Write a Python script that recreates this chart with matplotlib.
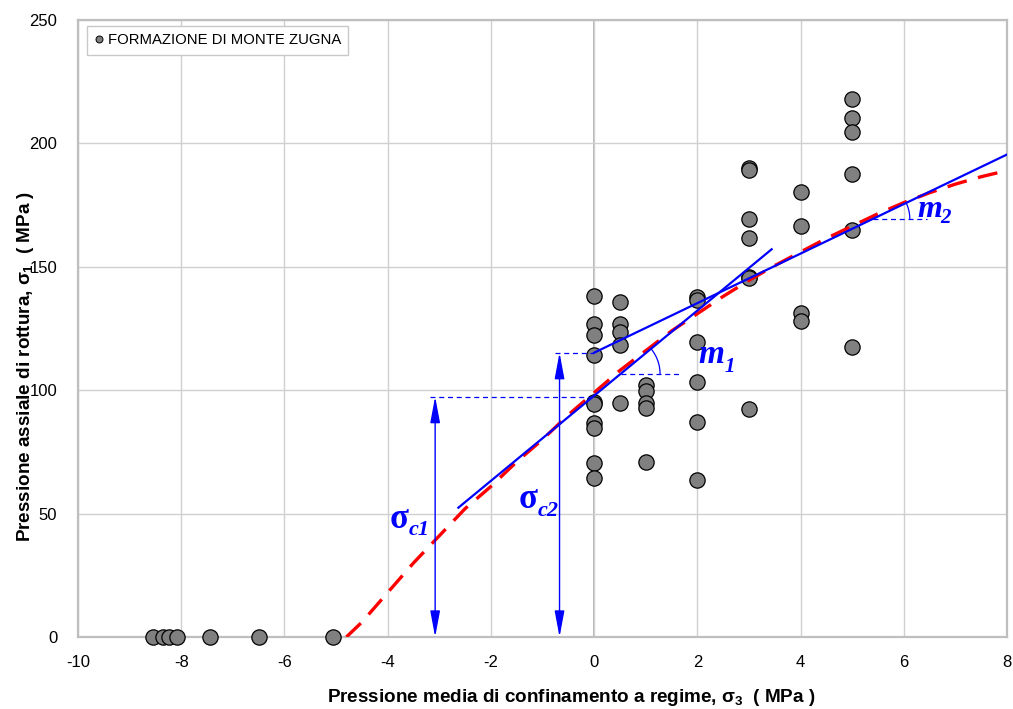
import numpy as np
import matplotlib
matplotlib.use("Agg")
import matplotlib.pyplot as plt
from matplotlib.lines import Line2D

plt.rcParams['font.family'] = ['Liberation Sans', 'DejaVu Sans']
plt.rcParams['axes.unicode_minus'] = False
plt.rcParams['mathtext.fontset'] = 'custom'
plt.rcParams['mathtext.rm'] = 'Liberation Sans:bold'
plt.rcParams['mathtext.it'] = 'Liberation Sans:bold'
plt.rcParams['mathtext.bf'] = 'Liberation Sans:bold'

# ---------------- data ----------------
sigma3 = ([-8.55, -8.35, -8.23, -8.09, -7.45, -6.5, -5.05] +
          [0] * 10 + [0.5] * 5 + [1] * 5 + [2] * 6 + [3] * 7 + [4] * 4 + [5] * 6)
sigma1 = ([0, 0, 0, 0, 0, 0, 0] +
          [138.3, 126.8, 122.4, 114.3, 95.3, 94.4, 86.6, 84.6, 70.6, 64.3] +
          [135.9, 126.8, 123.7, 118.3, 94.7] +
          [102.1, 99.8, 94.9, 92.7, 70.8] +
          [137.9, 136.5, 119.7, 103.4, 87.2, 63.6] +
          [189.9, 189.4, 169.2, 161.5, 146.0, 145.3, 92.2] +
          [180.4, 166.5, 131.4, 128.2] +
          [217.9, 210.2, 204.8, 187.5, 164.9, 117.6])

# red dashed envelope
env_x = [-4.8, -4.5, -4.0, -3.5, -3.0, -2.5, -2.0, -1.5, -1.0, -0.5, 0, 0.5, 1, 1.5, 2, 2.5, 3, 3.5, 4, 4.5, 5, 5.5, 6, 6.5, 7, 7.5, 8]
env_y = [0, 6, 18, 30, 41, 52, 61, 71, 80, 90, 99, 108, 116, 124, 131, 138, 144.5, 150.5, 156, 161.5, 166.5, 171.5, 176, 180, 183.5, 186.5, 189]

# blue straight fits
line1_x = [-2.63, 3.44]
line1_y = [52.4, 157.1]
line2_x = [0.0, 8.0]
line2_y = [115.2, 195.5]

sigma_c1 = 97.4
sigma_c2 = 115.2
arrow1_x = -3.08
arrow2_x = -0.67

xticks = list(range(-10, 9, 2))
yticks = list(range(0, 251, 50))
legend_label = "FORMAZIONE DI MONTE ZUGNA"
xlabel = r"Pressione media di confinamento a regime, $\sigma_3$  ( MPa )"
ylabel = r"Pressione assiale di rottura, $\sigma_1$  ( MPa )"

# ---------------- figure ----------------
W, H = 1013, 709
fig = plt.figure(figsize=(W / 100, H / 100), dpi=100)
ax = fig.add_axes([78 / W, 1 - 637 / H, (1007 - 78) / W, (637 - 20) / H])
ax.set_xlim(-10, 8)
ax.set_ylim(0, 250)
ax.set_xticks(xticks)
ax.set_yticks(yticks)
ax.grid(True, color='#d0d0d0', lw=1.0, zorder=0)
ax.set_axisbelow(True)
for s in ax.spines.values():
    s.set_color('#bfbfbf')
    s.set_linewidth(1.6)
ax.axvline(0, color='#a8a8a8', lw=1.2, zorder=0.5)
ax.tick_params(axis='both', length=0, labelsize=12)
ax.tick_params(axis='y', pad=15)
ax.tick_params(axis='x', pad=13)

ax.set_xlabel(xlabel, fontsize=13.6, fontweight='bold')
ax.xaxis.set_label_coords((571 - 78) / 929, (637 - 687) / 617)
ax.set_ylabel(ylabel, fontsize=13.6, fontweight='bold')
ax.yaxis.set_label_coords((36 - 78) / 929, 0.438)

# data points
ax.plot(sigma3, sigma1, 'o', ms=11, mfc='#808080', mec='black', mew=0.9, zorder=3, clip_on=False)

# red envelope
ax.plot(env_x, env_y, color='#ff0000', lw=2.4, dashes=(6, 3.5), zorder=5, dash_capstyle='butt')

# blue fits
blue = '#0000ff'
ax.plot(line1_x, line1_y, color=blue, lw=1.6, zorder=6)
ax.plot(line2_x, line2_y, color=blue, lw=1.6, zorder=6)

# sigma_c dashed lines
ax.plot([-3.18, 0], [sigma_c1, sigma_c1], color=blue, lw=0.9, dashes=(4, 3), zorder=4)
ax.plot([-0.76, 0], [sigma_c2, sigma_c2], color=blue, lw=0.9, dashes=(4, 3), zorder=4)

# double arrows
for xa, ya in [(arrow1_x, sigma_c1), (arrow2_x, sigma_c2)]:
    ax.annotate('', xy=(xa, ya), xytext=(xa, 0),
                arrowprops=dict(arrowstyle='<|-|>,head_length=1.6,head_width=0.3',
                                mutation_scale=10, color=blue, lw=1.0,
                                shrinkA=0, shrinkB=0), zorder=6)

# slope angle marks
fig.canvas.draw()
def slope_mark(x0, y0, xend, slope, r_px):
    ax.plot([x0, xend], [y0, y0], color=blue, lw=0.9, dashes=(4, 3), zorder=4)
    p0 = ax.transData.transform((x0, y0))
    p1 = ax.transData.transform((x0 + 1, y0 + slope))
    ang = np.arctan2(p1[1] - p0[1], p1[0] - p0[0])
    t = np.linspace(0, ang, 40)
    pts = np.column_stack([p0[0] + r_px * np.cos(t), p0[1] + r_px * np.sin(t)])
    d = ax.transData.inverted().transform(pts)
    ax.plot(d[:, 0], d[:, 1], color=blue, lw=0.9, zorder=4)

s1 = (line1_y[1] - line1_y[0]) / (line1_x[1] - line1_x[0])
s2 = (line2_y[1] - line2_y[0]) / (line2_x[1] - line2_x[0])
y_m1 = 106.6
x_m1 = line1_x[0] + (y_m1 - line1_y[0]) / s1
slope_mark(x_m1, y_m1, 1.67, s1, 39.5)
y_m2 = 169.4
x_m2 = line2_x[0] + (y_m2 - line2_y[0]) / s2
slope_mark(x_m2, y_m2, 6.45, s2, 37)

serif = ['Liberation Serif', 'DejaVu Serif']
def label(xm, ym, main, xs, ys, sub, fmain, fsub, style):
    ax.text(xm, ym, main, color=blue, fontsize=fmain, fontweight='bold', fontstyle=style,
            family=serif, ha='left', va='baseline', zorder=7)
    ax.text(xs, ys, sub, color=blue, fontsize=fsub, fontweight='bold', fontstyle='italic',
            family=serif, ha='left', va='baseline', zorder=7)

label(-3.97, 44.2, 'σ', -3.60, 41.3, 'c1', 25, 16, 'normal')
label(-1.47, 52.3, 'σ', -1.10, 49.0, 'c2', 25, 16, 'normal')
label(2.02, 110.9, 'm', 2.52, 107.5, '1', 24, 15, 'italic')
label(6.26, 170.3, 'm', 6.71, 167.6, '2', 23, 15, 'italic')

# legend
h = Line2D([], [], ls='none', marker='o', ms=5, mfc='#808080', mec='black', mew=0.7)
leg = ax.legend([h], [legend_label], loc='upper left',
                bbox_to_anchor=(87 / W, 1 - 25.7 / H), bbox_transform=fig.transFigure,
                borderaxespad=0, fontsize=10.7, handlelength=0.6, handletextpad=0.3,
                borderpad=0.5, fancybox=False, framealpha=1, edgecolor='#c8c8c8')
leg.get_frame().set_linewidth(1.0)
leg.set_zorder(10)

fig.savefig('out.png', dpi=100)
